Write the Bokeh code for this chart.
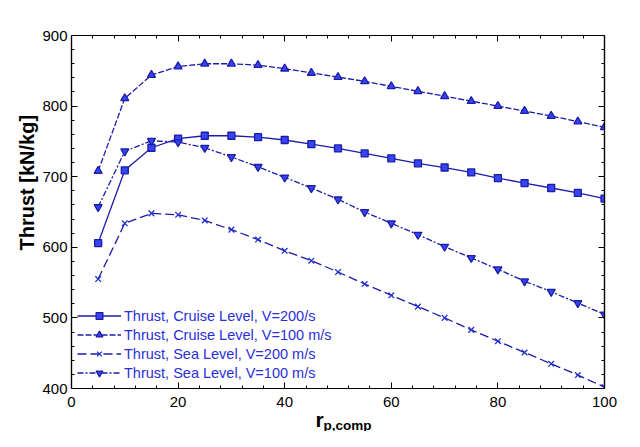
from bokeh.plotting import figure
from bokeh.models import (Range1d, LinearAxis, SingleIntervalTicker, Legend, LegendItem, Title)
from bokeh.embed import file_html
from bokeh.resources import INLINE

x_vals = [5, 10, 15, 20, 25, 30, 35, 40, 45, 50, 55, 60, 65, 70, 75, 80, 85, 90, 95, 100]
cruise_v200 = [606, 709, 741, 754, 758, 758, 756, 752, 746, 740, 733, 726, 719, 713, 706, 698, 691, 684, 677, 669]
cruise_v100 = [708, 811, 844, 856, 860, 860, 858, 853, 847, 841, 835, 828, 821, 814, 807, 800, 793, 786, 778, 770]
sea_v200 = [555, 634, 648, 646, 638, 625, 611, 595, 581, 565, 548, 532, 516, 500, 483, 467, 451, 435, 419, 402]
sea_v100 = [657, 736, 751, 749, 741, 728, 714, 699, 684, 668, 650, 634, 618, 601, 585, 569, 552, 537, 521, 505]
labels = ["Thrust, Cruise Level, V=200/s", "Thrust, Cruise Level, V=100 m/s",
          "Thrust, Sea Level, V=200 m/s", "Thrust, Sea Level, V=100 m/s"]

LINE = "#1c1ca8"
FILL = "#3546f0"
FONT = "Liberation Sans"

p = figure(width=624, height=431, output_backend="svg", toolbar_location=None,
           x_range=Range1d(0, 100), y_range=Range1d(400, 900))
p.min_border_left = 71
p.min_border_right = 20
p.min_border_top = 35
p.min_border_bottom = 43
p.xgrid.visible = False
p.ygrid.visible = False
p.outline_line_color = "black"
p.outline_line_width = 1.2

p.xaxis.ticker = SingleIntervalTicker(interval=20, num_minor_ticks=5)
p.yaxis.ticker = SingleIntervalTicker(interval=100, num_minor_ticks=5)

def style(ax, show_labels=True):
    ax.major_tick_in = 6
    ax.major_tick_out = 0
    ax.minor_tick_in = 3
    ax.minor_tick_out = 0
    ax.axis_line_color = "black"
    ax.axis_line_width = 1.2
    ax.major_label_text_font = FONT
    ax.major_label_text_font_size = "15px"
    ax.major_label_text_color = "black" if show_labels else None

style(p.xaxis[0])
style(p.yaxis[0])
p.xaxis.major_label_standoff = 8
p.yaxis.major_label_standoff = 4

top = LinearAxis(ticker=SingleIntervalTicker(interval=20, num_minor_ticks=5))
style(top, False)
top.major_label_text_font_size = "1px"
right = LinearAxis(ticker=SingleIntervalTicker(interval=100, num_minor_ticks=5))
style(right, False)
right.major_label_text_font_size = "1px"
p.add_layout(top, "above")
p.add_layout(right, "right")

series = [
    (cruise_v200, "square", "solid", 7),
    (cruise_v100, "triangle", "6 2", 8),
    (sea_v200, "x", "9 4", 8),
    (sea_v100, "inverted_triangle", "6 2 2 2", 8),
]
items = []
for (ys, marker, dash, size), lab in zip(series, labels):
    lr = p.line(x_vals, ys, line_color=LINE, line_width=1.3, line_dash=dash)
    sr = p.scatter(x_vals, ys, marker=marker, size=size, fill_color=FILL,
                   line_color=LINE if marker != "x" else "#2030d0", line_width=1.3)
    items.append(LegendItem(label=lab, renderers=[lr, sr]))

legend = Legend(items=items, location=(6, 7), background_fill_alpha=0,
                border_line_color=None, label_text_font=FONT,
                label_text_font_size="14.5px", label_text_color="#2a30d8",
                glyph_width=44, glyph_height=17, label_height=17,
                spacing=2, padding=2, margin=0, label_standoff=3)
p.add_layout(legend, "center")

# axis titles
ytitle = Title(text="Thrust  [kN/kg]", align="left", offset=138, standoff=4,
               text_font=FONT, text_font_style="bold", text_font_size="20px",
               text_color="black")
p.add_layout(ytitle, "left")
xr = Title(text="r", align="left", offset=244, standoff=-4, vertical_align="top",
           text_font=FONT, text_font_style="bold", text_font_size="21px",
           text_color="black")
xsub = Title(text="p,comp", align="left", offset=252, standoff=-26, vertical_align="top",
             text_font=FONT, text_font_style="bold", text_font_size="13.5px",
             text_color="black")
p.add_layout(xr, "below")
p.add_layout(xsub, "below")

open("out.html", "w").write(file_html(p, INLINE))
